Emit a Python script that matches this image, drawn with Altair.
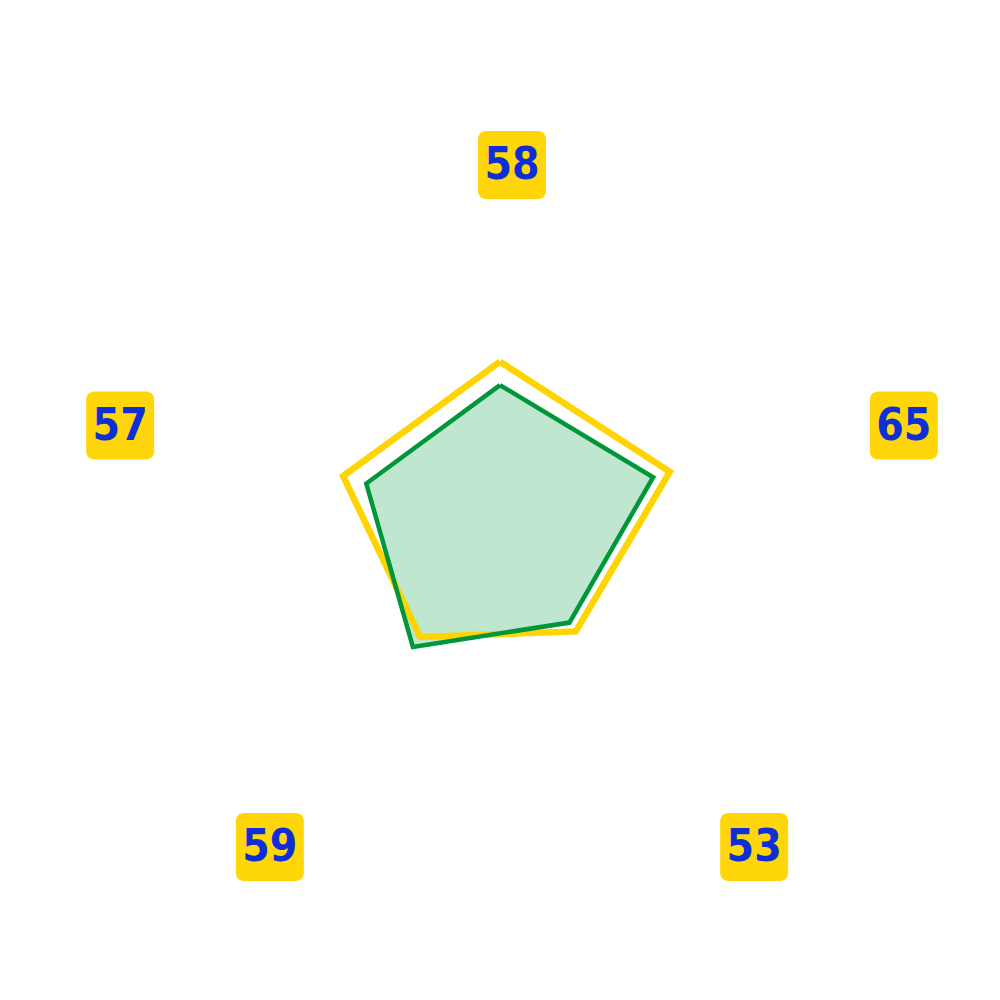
import altair as alt
import pandas as pd

# ---- data ----
axes_order = [0, 1, 2, 3, 4]               # clockwise from top
axis_labels = ["58", "65", "53", "59", "57"]
yellow_vals = [50.1, 54.1, 39.1, 41.2, 50.0]
green_vals = [43.0, 48.8, 35.8, 44.9, 42.6]

RMAX = 330  # pixel radius for value 100
LX, LY = 412, 377
LCX, LCY = 12, -15

rows = []
for name, vals in (("yellow", yellow_vals), ("green", green_vals)):
    for k in range(len(axes_order) + 1):
        i = k % len(axes_order)
        rows.append({"series": name, "idx": i, "ord": k, "value": vals[i]})
poly = pd.DataFrame(rows)
lab = pd.DataFrame({"idx": axes_order, "label": axis_labels})

xs = alt.Scale(domain=[-492, 492], nice=False, zero=False)
ys = alt.Scale(domain=[-465, 519], nice=False, zero=False)

def polybase(series):
    return (
        alt.Chart(poly)
        .transform_filter(alt.datum.series == series)
        .transform_calculate(
            ang="PI/2 - 2*PI*datum.idx/5",
            px=f"datum.value*{RMAX}/100*cos(datum.ang)",
            py=f"datum.value*{RMAX}/100*sin(datum.ang)",
        )
    )

enc = dict(
    x=alt.X("px:Q", scale=xs, axis=None),
    y=alt.Y("py:Q", scale=ys, axis=None),
    order=alt.Order("ord:Q"),
)

green_fill = polybase("green").mark_line(
    fill="#009c3b", fillOpacity=0.25, strokeOpacity=0, strokeWidth=0
).encode(**enc)
yellow_line = polybase("yellow").mark_line(
    color="#FFD400", strokeWidth=6.5, strokeJoin="miter"
).encode(**enc)
green_line = polybase("green").mark_line(
    color="#00963A", strokeWidth=4.5, strokeJoin="miter"
).encode(**enc)

labbase = alt.Chart(lab).transform_calculate(
    ang="PI/2 - 2*PI*datum.idx/5",
    lx=f"{LCX} + {LX}*cos(datum.ang)",
    ly=f"{LCY} + {LY}*sin(datum.ang)",
    x1="datum.lx - 34",
    x2="datum.lx + 34",
    y1="datum.ly - 34",
    y2="datum.ly + 34",
)
boxes = labbase.mark_rect(color="#FFD60A", cornerRadius=8).encode(
    x=alt.X("x1:Q", scale=xs, axis=None),
    x2="x2:Q",
    y=alt.Y("y1:Q", scale=ys, axis=None),
    y2="y2:Q",
)
texts = labbase.mark_text(
    font="DejaVu Sans Condensed, DejaVu Sans, sans-serif",
    fontSize=44,
    fontWeight="bold",
    color="#0E2FD8",
    align="center",
    baseline="middle",
    dy=1,
).encode(
    x=alt.X("lx:Q", scale=xs, axis=None),
    y=alt.Y("ly:Q", scale=ys, axis=None),
    text="label:N",
)

chart = (
    alt.layer(boxes, texts, green_fill, yellow_line, green_line)
    .properties(width=984, height=984, padding=0, autosize="none")
    .configure_view(stroke=None)
)

chart.save("out.html", embed_options={"renderer": "svg", "actions": False})
